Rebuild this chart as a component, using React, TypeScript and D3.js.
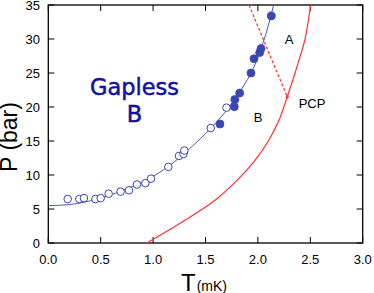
import React, { useEffect, useRef } from 'react'
import * as d3 from 'd3'

// open circles (T mK, P bar)
const openT = [0.185, 0.296, 0.34, 0.45, 0.5, 0.576, 0.69, 0.77, 0.846, 0.926, 0.98, 1.145, 1.247, 1.29, 1.298, 1.55, 1.7]
const openP = [6.47, 6.47, 6.6, 6.47, 6.6, 7.25, 7.55, 7.75, 8.6, 8.8, 9.46, 11.2, 12.8, 13.1, 13.6, 16.9, 19.9]
// filled circles
const fillT = [1.638, 1.775, 1.78, 1.826, 1.934, 1.963, 2.017, 2.03, 2.128]
const fillP = [17.5, 20.05, 21.1, 22.05, 25.0, 27.1, 28.0, 28.6, 33.4]
// blue fit line
const fitT = [0, 0.2, 0.4, 0.6, 0.8, 1.0, 1.2, 1.4, 1.6, 1.8, 2.0, 2.1, 2.15]
const fitP = [5.5, 5.65, 6.2, 7.1, 8.3, 9.8, 11.9, 14.6, 17.7, 21.6, 27.3, 32.0, 35]
// red normal / superfluid boundary
const redT = [0.94, 1.3, 1.6, 1.8, 1.97, 2.1, 2.2, 2.28, 2.34, 2.4, 2.45, 2.504]
const redP = [0, 3.3, 6.4, 9.2, 12.1, 15, 18, 21.5, 24.3, 27.3, 30, 35]
// dashed A-B line
const dashT = [1.915, 2.28]
const dashP = [35, 21.5]
const pcp = [2.28, 21.5]

const xTicks = [0, 0.5, 1, 1.5, 2, 2.5, 3]
const yTicks = [0, 5, 10, 15, 20, 25, 30, 35]

const BLUE = '#3b46b3'
const RED = '#ff3030'

function App() {
    const ref = useRef<SVGSVGElement>(null)

    useEffect(() => {
        const svg = d3.select(ref.current)
        svg.selectAll('*').remove()

        const x = d3.scaleLinear().domain([0, 3]).range([48.3, 362.7])
        const y = d3.scaleLinear().domain([0, 35]).range([243, 5])
        const font = 'Liberation Sans, Arial, sans-serif'

        const g = svg.append('g')

        // frame
        g.append('rect')
            .attr('x', x(0)).attr('y', y(35))
            .attr('width', x(3) - x(0)).attr('height', y(0) - y(35))
            .attr('fill', 'none').attr('stroke', '#000').attr('stroke-width', 1.3)

        // ticks, all inward
        const tl = 6
        xTicks.forEach(t => {
            g.append('line').attr('x1', x(t)).attr('x2', x(t)).attr('y1', y(0)).attr('y2', y(0) - tl).attr('stroke', '#000')
            g.append('line').attr('x1', x(t)).attr('x2', x(t)).attr('y1', y(35)).attr('y2', y(35) + tl).attr('stroke', '#000')
            g.append('text').attr('x', x(t)).attr('y', 264)
                .attr('text-anchor', 'middle').attr('font-family', font).attr('font-size', 13)
                .text(d3.format('.1f')(t))
        })
        yTicks.forEach(t => {
            g.append('line').attr('x1', x(0)).attr('x2', x(0) + tl).attr('y1', y(t)).attr('y2', y(t)).attr('stroke', '#000')
            g.append('line').attr('x1', x(3)).attr('x2', x(3) - tl).attr('y1', y(t)).attr('y2', y(t)).attr('stroke', '#000')
            g.append('text').attr('x', 40).attr('y', y(t) + 4.5)
                .attr('text-anchor', 'end').attr('font-family', font).attr('font-size', 13)
                .text(t)
        })

        // axis titles
        g.append('text')
            .attr('transform', `translate(17,137) rotate(-90)`)
            .attr('text-anchor', 'middle').attr('font-family', font).attr('font-size', 23)
            .text('P (bar)')
        const xt = g.append('text').attr('x', 181).attr('y', 291).attr('font-family', font)
        xt.append('tspan').attr('font-size', 24).text('T')
        xt.append('tspan').attr('font-size', 14).attr('dx', 1).text('(mK)')

        const line = d3.line<[number, number]>()
            .x(d => x(d[0])).y(d => y(d[1]))
            .curve(d3.curveMonotoneX)
        const smooth = d3.line<[number, number]>()
            .x(d => x(d[0])).y(d => y(d[1]))
            .curve(d3.curveCatmullRom.alpha(0.5))

        const clip = svg.append('clipPath').attr('id', 'plotclip')
        clip.append('rect').attr('x', x(0)).attr('y', y(35)).attr('width', x(3) - x(0)).attr('height', y(0) - y(35))
        const plot = g.append('g').attr('clip-path', 'url(#plotclip)')

        // red solid boundary
        plot.append('path')
            .datum(redT.map((t, i) => [t, redP[i]] as [number, number]))
            .attr('fill', 'none').attr('stroke', RED).attr('stroke-width', 1.2)
            .attr('d', smooth)
        // dashed
        plot.append('path')
            .datum(dashT.map((t, i) => [t, dashP[i]] as [number, number]))
            .attr('fill', 'none').attr('stroke', RED).attr('stroke-width', 1.2)
            .attr('stroke-dasharray', '3,2')
            .attr('d', d3.line<[number, number]>().x(d => x(d[0])).y(d => y(d[1])))
        plot.append('circle').attr('cx', x(pcp[0])).attr('cy', y(pcp[1])).attr('r', 1.6).attr('fill', RED)

        // blue fit
        plot.append('path')
            .datum(fitT.map((t, i) => [t, fitP[i]] as [number, number]))
            .attr('fill', 'none').attr('stroke', '#4a58c0').attr('stroke-width', 1)
            .attr('d', line)

        // markers
        plot.selectAll('.open')
            .data(openT.map((t, i) => [t, openP[i]]))
            .enter().append('circle')
            .attr('cx', d => x(d[0])).attr('cy', d => y(d[1])).attr('r', 3.8)
            .attr('fill', '#fff').attr('stroke', BLUE).attr('stroke-width', 1)
        plot.selectAll('.filled')
            .data(fillT.map((t, i) => [t, fillP[i]]))
            .enter().append('circle')
            .attr('cx', d => x(d[0])).attr('cy', d => y(d[1])).attr('r', 4)
            .attr('fill', BLUE).attr('stroke', BLUE).attr('stroke-width', 0.8)

        // region labels
        const lab = (tx: string, px: number, py: number) =>
            g.append('text').attr('x', px).attr('y', py)
                .attr('text-anchor', 'middle').attr('font-family', font).attr('font-size', 13)
                .text(tx)
        lab('A', 289, 44)
        lab('B', 258, 122)
        lab('PCP', 312, 108)

        const big = (tx: string, py: number) =>
            g.append('text').attr('x', 134.5).attr('y', py)
                .attr('text-anchor', 'middle').attr('font-family', 'DejaVu Sans, sans-serif').attr('font-size', 22.5)
                .attr('fill', '#1010a6').attr('stroke', '#1010a6').attr('stroke-width', 0.5)
                .text(tx)
        big('Gapless', 95)
        big('B', 122)
    }, [])

    return (
        <svg ref={ref} width={374} height={293} style={{ position: 'absolute', left: 0, top: 0, background: '#fff' }} />
    )
}

export default App
